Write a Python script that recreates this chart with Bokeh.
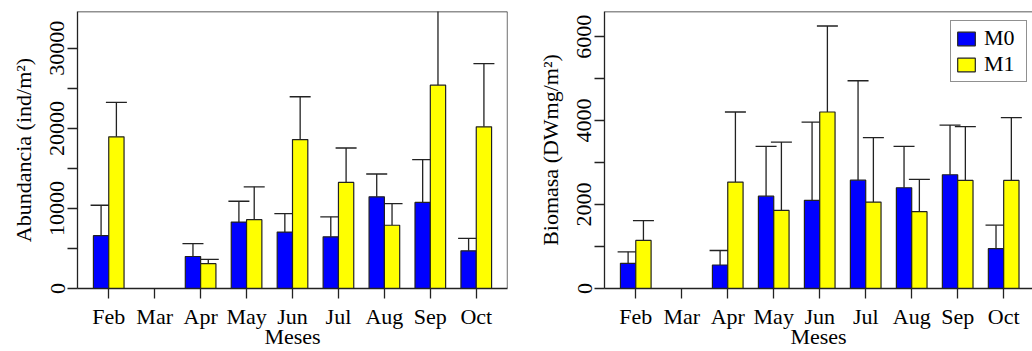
import math
from bokeh.plotting import figure
from bokeh.models import ColumnDataSource, FixedTicker, Span, Legend, LegendItem
from bokeh.layouts import row
from bokeh.embed import file_html
from bokeh.resources import INLINE

nan = float("nan")
months = ["Feb", "Mar", "Apr", "May", "Jun", "Jul", "Aug", "Sep", "Oct"]

ab_m0 = [6600, nan, 4000, 8300, 7050, 6450, 11450, 10750, 4700]
ab_m0_err = [10400, nan, 5600, 10900, 9350, 8950, 14300, 16100, 6250]
ab_m1 = [18950, nan, 3100, 8600, 18600, 13250, 7900, 25400, 20200]
ab_m1_err = [23250, nan, 3650, 12700, 23950, 17550, 10600, 38000, 28100]

bio_m0 = [600, nan, 560, 2200, 2100, 2580, 2400, 2710, 950]
bio_m0_err = [875, nan, 905, 3385, 3965, 4950, 3385, 3895, 1510]
bio_m1 = [1145, nan, 2535, 1860, 4205, 2060, 1830, 2575, 2575]
bio_m1_err = [1615, nan, 4205, 3490, 6255, 3595, 2600, 3855, 4070]

ab_ticks = [0, 5000, 10000, 15000, 20000, 25000, 30000]
ab_labels = ["0", "", "10000", "", "20000", "", "30000"]
bio_ticks = [0, 1000, 2000, 3000, 4000, 5000, 6000]
bio_labels = ["0", "", "2000", "", "4000", "", "6000"]

FONT = "Liberation Serif"
DARK = "#222222"
BLUE = "#0000FF"
YELLOW = "#FFFF00"


def make_panel(m0, m0e, m1, m1e, ymax, ticks, tlabels, ylabel, width,
               mb_left, x_end, right_border, legend):
    p = figure(width=width, height=351, output_backend="svg", toolbar_location=None,
               x_range=(-0.04, x_end), y_range=(0, ymax),
               min_border_left=mb_left, min_border_right=(0 if not right_border else width - mb_left - 430),
               min_border_top=11, min_border_bottom=0)
    p.background_fill_color = "white"
    p.border_fill_color = "white"
    p.outline_line_color = None
    p.grid.visible = False

    idx = [i for i in range(len(months)) if not math.isnan(m0[i])]
    centers = [3 * i + 2 for i in range(len(months))]
    s0 = ColumnDataSource(dict(x=[centers[i] - 0.5 for i in idx], top=[m0[i] for i in idx],
                               err=[m0e[i] for i in idx]))
    s1 = ColumnDataSource(dict(x=[centers[i] + 0.5 for i in idx], top=[m1[i] for i in idx],
                               err=[m1e[i] for i in idx]))

    for s in (s0, s1):
        p.segment(x0="x", y0="top", x1="x", y1="err", source=s, line_color=DARK, line_width=1.3)
        p.scatter(x="x", y="err", marker="dash", size=21, source=s, line_color=DARK, line_width=1.3)
    r0 = p.vbar(x="x", top="top", bottom=0, width=1, source=s0, fill_color=BLUE,
                line_color=DARK, line_width=1.2)
    r1 = p.vbar(x="x", top="top", bottom=0, width=1, source=s1, fill_color=YELLOW,
                line_color=DARK, line_width=1.2)

    # box
    p.add_layout(Span(location=ymax, dimension="width", line_color=DARK, line_width=1.3))
    if right_border:
        p.add_layout(Span(location=x_end, dimension="height", line_color=DARK, line_width=1.3))

    # x axis
    xa = p.xaxis[0]
    xa.ticker = FixedTicker(ticks=centers)
    xa.major_label_overrides = {c: m for c, m in zip(centers, months)}
    xa.axis_label = "Meses"
    # y axis
    ya = p.yaxis[0]
    ya.ticker = FixedTicker(ticks=ticks)
    ya.major_label_overrides = {t: l for t, l in zip(ticks, tlabels)}
    ya.major_label_orientation = "vertical"
    ya.axis_label = ylabel

    for ax in (xa, ya):
        ax.axis_line_color = DARK
        ax.axis_line_width = 1.3
        ax.major_tick_line_color = DARK
        ax.major_tick_line_width = 1.3
        ax.major_tick_out = 10
        ax.major_tick_in = 0
        ax.minor_tick_line_color = None
        ax.major_label_text_font = FONT
        ax.major_label_text_font_size = "22px"
        ax.major_label_text_color = "black"
        ax.axis_label_text_font = FONT
        ax.axis_label_text_font_size = "22px"
        ax.axis_label_text_font_style = "normal"
        ax.axis_label_text_color = "black"
    xa.major_label_standoff = 5
    xa.axis_label_standoff = -8
    ya.major_label_standoff = 3
    ya.axis_label_standoff = 12

    if legend:
        lg = Legend(items=[LegendItem(label="M0", renderers=[r0]),
                           LegendItem(label="M1", renderers=[r1])],
                    location=(346, 206))
        lg.label_text_font = FONT
        lg.label_text_font_size = "22px"
        lg.label_text_color = "black"
        lg.label_width = 38
        lg.glyph_width = 22
        lg.glyph_height = 17
        lg.label_standoff = 7
        lg.spacing = 0
        lg.padding = 4
        lg.margin = 0
        lg.border_line_color = DARK
        lg.border_line_width = 1.2
        lg.background_fill_color = "white"
        lg.background_fill_alpha = 1
        p.add_layout(lg, "center")
    return p


p1 = make_panel(ab_m0, ab_m0_err, ab_m1, ab_m1_err, 34600, ab_ticks, ab_labels,
                "Abundancia (ind/m²)", 516, 77, 28.04, True, False)
p2 = make_panel(bio_m0, bio_m0_err, bio_m1, bio_m1_err, 6600, bio_ticks, bio_labels,
                "Biomasa (DWmg/m²)", 516, 88, 27.88, False, True)

layout = row(p1, p2)
open("out.html", "w").write(file_html(layout, INLINE))
